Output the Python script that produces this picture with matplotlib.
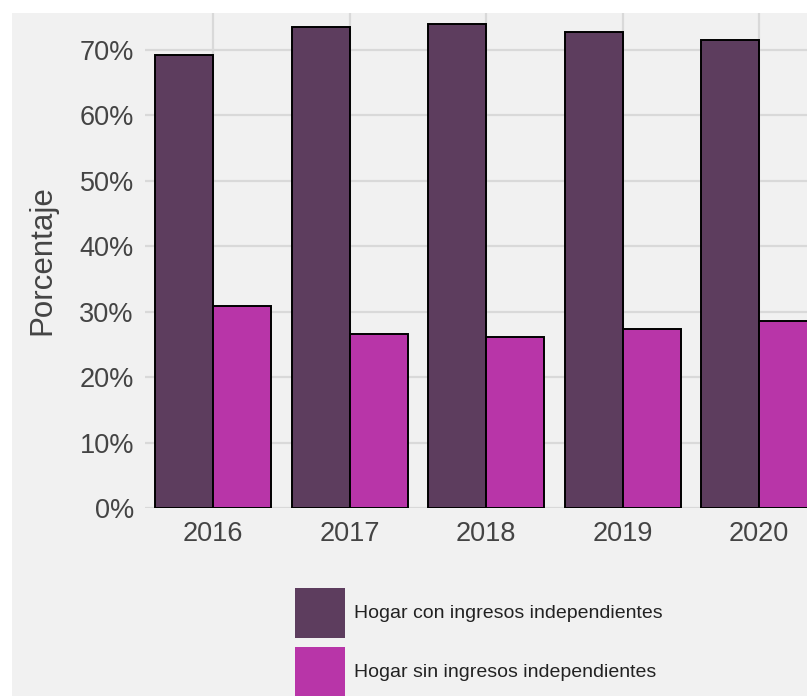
import numpy as np
import matplotlib
matplotlib.use('Agg')
from matplotlib import pyplot as plt, patches

years = ['2016', '2017', '2018', '2019', '2020']
con_ingresos = [69.2, 73.4, 73.9, 72.7, 71.4]
sin_ingresos = [30.8, 26.6, 26.1, 27.3, 28.6]
labels = ['Hogar con ingresos independientes', 'Hogar sin ingresos independientes']
colors = ['#5d3d5e', '#b835a8']
yticks = [0, 10, 20, 30, 40, 50, 60, 70]

plt.rcParams['font.family'] = ['Liberation Sans', 'DejaVu Sans']

W, H = 807, 696
fig = plt.figure(figsize=(W / 100, H / 100), dpi=100, facecolor='white')
bg = '#f1f1f1'
fig.patches.append(patches.Rectangle((12 / W, 0), 1, 1 - 13 / H, transform=fig.transFigure,
                                     facecolor=bg, edgecolor='none', zorder=-10))

ax = fig.add_axes([145 / W, 1 - 508 / H, 1 - 145 / W, (508 - 13) / H])
ax.set_facecolor(bg)

x = np.arange(len(years))
w = 0.425
ax.bar(x - w / 2, con_ingresos, w, color=colors[0], edgecolor='black', linewidth=1.4,
       label=labels[0], zorder=3)
ax.bar(x + w / 2, sin_ingresos, w, color=colors[1], edgecolor='black', linewidth=1.4,
       label=labels[1], zorder=3)

ax.set_xlim(-0.5, (807 - 213) / 136.5)
ax.set_ylim(0, 495 / 6.55)
ax.set_xticks(x)
ax.set_xticklabels(years)
ax.set_yticks(yticks)
ax.set_yticklabels(['{}%'.format(v) for v in yticks])
ax.tick_params(length=0, labelsize=19.5, labelcolor='#444444')
ax.tick_params(axis='y', pad=8)
ax.tick_params(axis='x', pad=9.5)
ax.grid(True, color='#d9d9d9', linewidth=1.6, zorder=0)
ax.set_axisbelow(True)
for s in ax.spines.values():
    s.set_visible(False)

ax.set_ylabel('Porcentaje', fontsize=22.5, color='#444444', labelpad=16)

leg = fig.legend(loc='upper left', bbox_to_anchor=(295 / W, 1 - 588 / H), frameon=False,
                 fontsize=14, labelcolor='#222222', handlelength=2.57, handleheight=3.58,
                 labelspacing=0.46, handletextpad=0.45, borderpad=0, borderaxespad=0)
for h in leg.legend_handles:
    h.set_edgecolor('none')

fig.savefig('out.png', dpi=100, facecolor='white')
